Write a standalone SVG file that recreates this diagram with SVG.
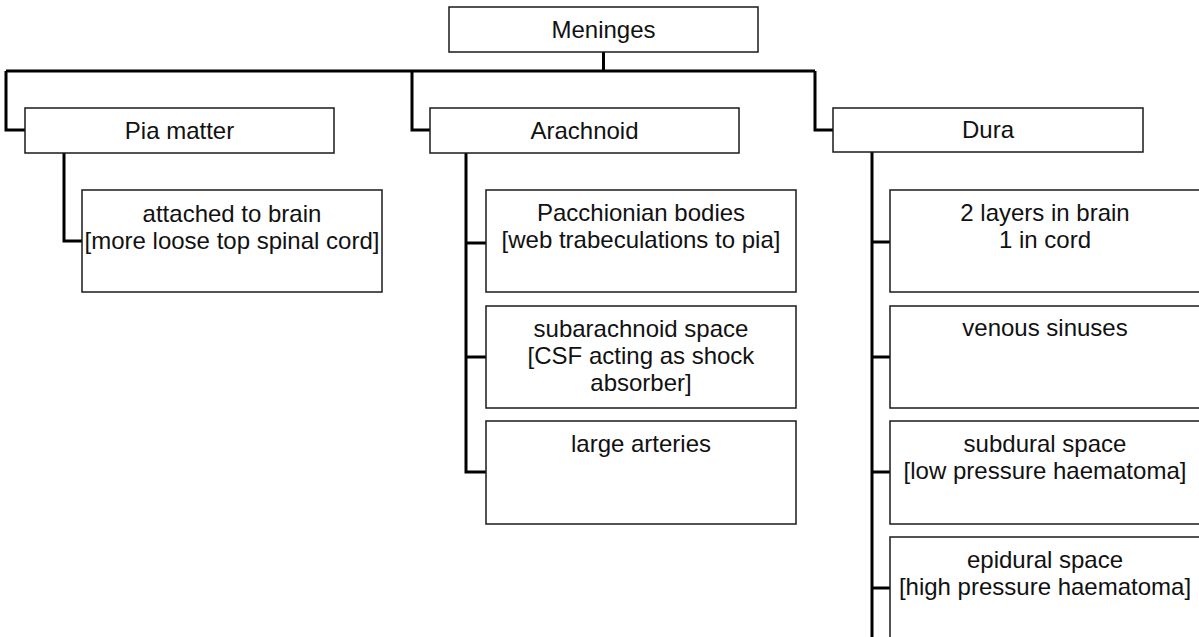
<svg xmlns="http://www.w3.org/2000/svg" width="1199" height="637" viewBox="0 0 1199 637">
  <style>
    .box { fill: #ffffff; stroke: #1a1a1a; stroke-width: 1.5; }
    .lbl { font-family: "Liberation Sans", Arial, sans-serif; font-size: 24px; fill: #111111; text-anchor: middle; }
    .wire { fill: none; stroke: #000000; stroke-width: 3; stroke-linejoin: miter; stroke-linecap: butt; }
  </style>
  <rect width="1199" height="637" fill="#ffffff"/>

  <!-- connectors -->
  <g id="connectors" class="wire">
    <path d="M603.5,52 V71"/>
    <path d="M6,71 H815"/>
    <path d="M6,71 V130 H25"/>
    <path d="M412,71 V130 H430"/>
    <path d="M815,71 V130 H833"/>
    <path d="M64,153 V241 H82"/>
    <path d="M466,153 V472 H486"/>
    <path d="M466,243 H486"/>
    <path d="M466,357 H486"/>
    <path d="M872,152 V637"/>
    <path d="M872,242 H890"/>
    <path d="M872,357 H890"/>
    <path d="M872,472 H890"/>
    <path d="M872,588 H890"/>
  </g>

  <!-- root -->
  <g id="meninges">
    <rect class="box" x="449" y="7" width="309" height="45"/>
    <text class="lbl" x="603.5" y="37.5">Meninges</text>
  </g>

  <!-- top-level layers -->
  <g id="pia">
    <rect class="box" x="25" y="108" width="309" height="45"/>
    <text class="lbl" x="179.5" y="138.5">Pia matter</text>
  </g>
  <g id="arachnoid">
    <rect class="box" x="430" y="108" width="309" height="45"/>
    <text class="lbl" x="584.5" y="138.5">Arachnoid</text>
  </g>
  <g id="dura">
    <rect class="box" x="833" y="108" width="310" height="44"/>
    <text class="lbl" x="988" y="138">Dura</text>
  </g>

  <!-- pia detail -->
  <g id="pia-1">
    <rect class="box" x="82" y="190" width="300" height="102"/>
    <text class="lbl" x="232" y="222">attached to brain</text>
    <text class="lbl" x="232" y="249">[more loose top spinal cord]</text>
  </g>

  <!-- arachnoid details -->
  <g id="arachnoid-1">
    <rect class="box" x="486" y="190" width="310" height="102"/>
    <text class="lbl" x="641" y="221">Pacchionian bodies</text>
    <text class="lbl" x="641" y="248">[web trabeculations to pia]</text>
  </g>
  <g id="arachnoid-2">
    <rect class="box" x="486" y="306" width="310" height="102"/>
    <text class="lbl" x="641" y="337">subarachnoid space</text>
    <text class="lbl" x="641" y="364">[CSF acting as shock</text>
    <text class="lbl" x="641" y="391">absorber]</text>
  </g>
  <g id="arachnoid-3">
    <rect class="box" x="486" y="421" width="310" height="103"/>
    <text class="lbl" x="641" y="452">large arteries</text>
  </g>

  <!-- dura details -->
  <g id="dura-1">
    <rect class="box" x="890" y="190" width="312" height="102"/>
    <text class="lbl" x="1045" y="221">2 layers in brain</text>
    <text class="lbl" x="1045" y="248">1 in cord</text>
  </g>
  <g id="dura-2">
    <rect class="box" x="890" y="306" width="312" height="102"/>
    <text class="lbl" x="1045" y="336">venous sinuses</text>
  </g>
  <g id="dura-3">
    <rect class="box" x="890" y="421" width="312" height="103"/>
    <text class="lbl" x="1045" y="452">subdural space</text>
    <text class="lbl" x="1045" y="479">[low pressure haematoma]</text>
  </g>
  <g id="dura-4">
    <rect class="box" x="890" y="537" width="312" height="110"/>
    <text class="lbl" x="1045" y="568">epidural space</text>
    <text class="lbl" x="1045" y="595">[high pressure haematoma]</text>
  </g>
</svg>
